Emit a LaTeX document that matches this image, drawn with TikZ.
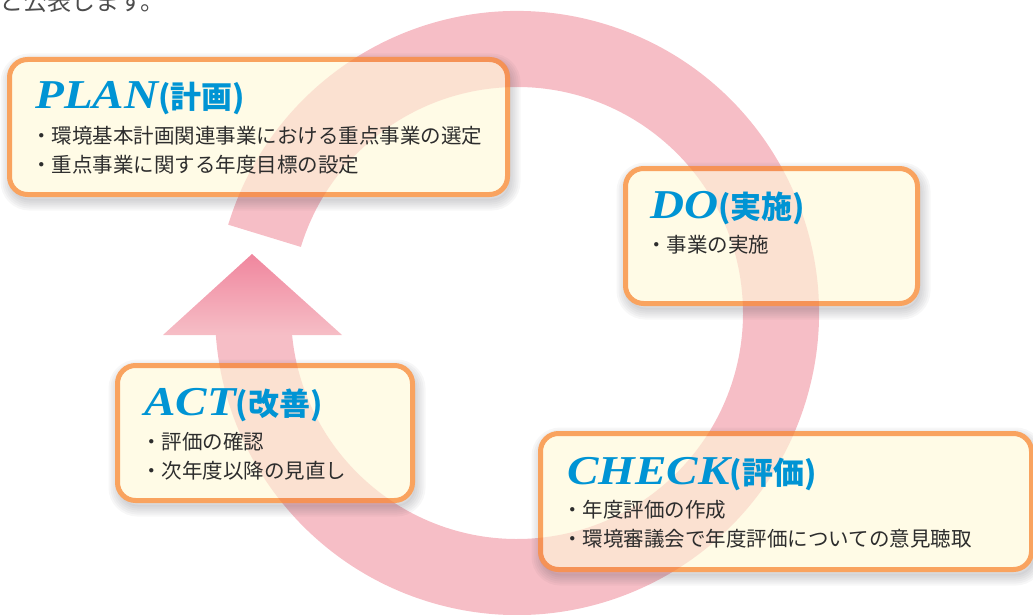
\documentclass[tikz,border=0pt]{standalone}
\usepackage{fontspec}
\usetikzlibrary{positioning}
\usetikzlibrary{calc}
\newfontfamily\titlefont{Liberation Serif}[FakeStretch=1.15]
\newfontfamily\jpfont{Noto Sans CJK JP}
\definecolor{ringPink}{RGB}{246,190,198}
\definecolor{arrowTop}{RGB}{240,134,158}
\definecolor{boxOrange}{RGB}{249,163,95}
\definecolor{boxCream}{RGB}{255,251,230}
\definecolor{titleBlue}{RGB}{0,148,212}
\definecolor{bodyGray}{RGB}{45,45,45}
\definecolor{shadowGray}{RGB}{70,70,80}
\tikzset{softShadow/.style={preaction={draw=shadowGray, draw opacity=0.045, line width=#1, transform canvas={shift={(2pt,-5pt)}}}}}
\tikzset{boxStyle/.style={rectangle, rounded corners=18pt, draw=boxOrange, line width=5pt, fill=boxCream, minimum height=135pt, inner sep=0pt,
    softShadow=22pt, softShadow=18pt, softShadow=14pt, softShadow=10pt, softShadow=6pt, softShadow=2pt}}
\tikzset{titleStyle/.style={anchor=base west, inner sep=0pt, text=titleBlue}}
\tikzset{bodyStyle/.style={anchor=base west, inner sep=0pt, text=bodyGray, font=\jpfont\fontsize{20.5}{20.5}\selectfont}}
\tikzset{ringStyle/.style={fill=ringPink}}
\newcommand{\pdcaTitle}[2]{{\titlefont\bfseries\itshape\fontsize{41}{41}\selectfont #1}{\jpfont\bfseries\fontsize{31}{31}\selectfont (#2)}}
\newcommand{\ringPath}{($(ringC)+(163:302)$) arc[start angle=163, end angle=-175.8, radius=302] -- ($(ringC)+(-174.4:226)$) arc[start angle=-174.4, end angle=163, radius=226] -- cycle}
\begin{document}
\begin{tikzpicture}[x=1pt, y=1pt]
  \useasboundingbox (0,0) rectangle (1033,-615);
  \node [anchor=base west, inner sep=0pt, text=bodyGray!85, font=\jpfont\fontsize{24}{24}\selectfont] (intro) at (-1,-10.5) {と公表します。};

  % ring and arrow
  \coordinate (ringC) at (517,-313);
  \fill [ringStyle] \ringPath;
  \shade [top color=arrowTop, bottom color=ringPink] (252,-254) -- (163,-335) -- (342,-335) -- cycle;

  % boxes
  \node [boxStyle, minimum width=498pt] (plan) at (258.5,-127) {};
  \node [boxStyle, minimum width=292pt] (do) at (771.5,-236) {};
  \node [boxStyle, minimum width=295pt] (act) at (265,-433) {};
  \node [boxStyle, minimum width=491pt, minimum height=136pt] (check) at (786,-501.5) {};

  % ring through the boxes
  \begin{scope}
    \clip [rounded corners=20pt] (plan.north west) rectangle (plan.south east)
      (do.north west) rectangle (do.south east)
      (act.north west) rectangle (act.south east)
      (check.north west) rectangle (check.south east);
    \begin{scope}[blend mode=multiply]
      \fill [ringStyle, fill opacity=0.4] \ringPath;
    \end{scope}
  \end{scope}

  % texts
  \node [titleStyle] (planTitle) at ($(plan.north west)+(28,-52)$) {\pdcaTitle{PLAN}{計画}};
  \node [bodyStyle] (planA) at ($(plan.north west)+(24,-86)$) {・環境基本計画関連事業における重点事業の選定};
  \node [bodyStyle, below=29.5pt of planA.base west, anchor=base west] (planB) {・重点事業に関する年度目標の設定};

  \node [titleStyle] (doTitle) at ($(do.north west)+(27,-52)$) {\pdcaTitle{DO}{実施}};
  \node [bodyStyle] (doA) at ($(do.north west)+(23,-86)$) {・事業の実施};

  \node [titleStyle] (actTitle) at ($(act.north west)+(29,-52)$) {\pdcaTitle{ACT}{改善}};
  \node [bodyStyle] (actA) at ($(act.north west)+(26,-86)$) {・評価の確認};
  \node [bodyStyle, below=29pt of actA.base west, anchor=base west] (actB) {・次年度以降の見直し};

  \node [titleStyle] (checkTitle) at ($(check.north west)+(29,-53)$) {\pdcaTitle{CHECK}{評価}};
  \node [bodyStyle] (checkA) at ($(check.north west)+(24,-86.5)$) {・年度評価の作成};
  \node [bodyStyle, below=28.5pt of checkA.base west, anchor=base west] (checkB) {・環境審議会で年度評価についての意見聴取};
\end{tikzpicture}
\end{document}
